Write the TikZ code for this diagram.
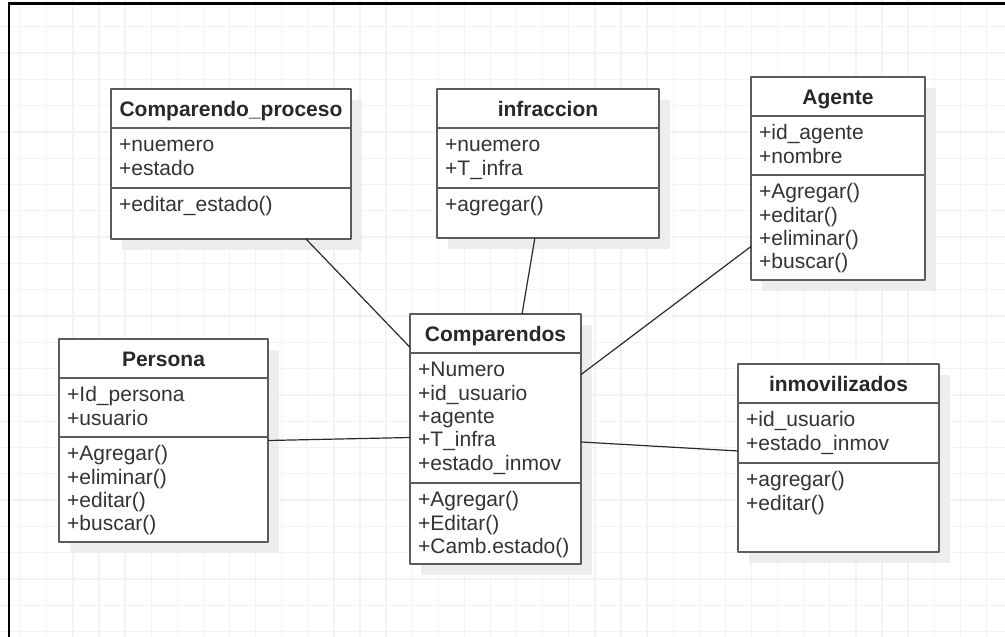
\documentclass[tikz,border=0pt]{standalone}
\usepackage{fontspec}
\setmainfont{Liberation Sans}
\usetikzlibrary{fit}

\definecolor{gridline}{HTML}{F3F3F3}
\definecolor{boxline}{HTML}{5C5C5C}
\definecolor{boxshadow}{HTML}{EDEDED}
\definecolor{ink}{HTML}{333333}
\definecolor{titleink}{HTML}{282828}
\definecolor{wire}{HTML}{2A2A2A}

\tikzset{
  gridl/.style={draw=gridline, line width=1.3pt},
  frameline/.style={draw=black, line width=2.6pt},
  classbox/.style={draw=boxline, line width=2.2pt, fill=white, rectangle,
    inner sep=0pt, outer sep=0pt, line join=round},
  divider/.style={draw=boxline, line width=2.2pt},
  classtitle/.style={font=\fontsize{21}{23.3}\selectfont\bfseries,
    text=titleink, inner sep=0pt, anchor=base},
  member/.style={font=\fontsize{21}{23.3}\selectfont, text=ink,
    inner sep=0pt, anchor=base west},
  assoc/.style={draw=wire, line width=1.2pt},
}

% class box: name, left, top, right, bottom, first divider, second divider, title
\newcommand\umlclass[8]{%
  \fill[boxshadow] ({#2+11},{#3+11}) rectangle ({#4+11},{#5+11});
  \node[classbox, fit={(#2,#3) (#4,#5)}] (#1) {};
  \draw[divider] (#2,#6) -- (#4,#6);
  \draw[divider] (#2,#7) -- (#4,#7);
  \node[classtitle] (#1-title) at ({(#2+#4)/2},{#6-12}) {#8};
}
% list of members: prefix, x, first baseline, entries
\newcommand\members[4]{%
  \foreach \t [count=\i from 0] in {#4} {
    \node[member] (#1-\i) at (#2,{#3+23.3*\i}) {\t};
  }
}

\begin{document}
\begin{tikzpicture}[x=1pt,y=-1pt]
  \useasboundingbox (0,0) rectangle (1005,637);
  \fill[white] (0,0) rectangle (1005,637);

  % background grid
  \foreach \k in {0,...,37} \draw[gridl] ({20.7+26.1*\k},0) -- ({20.7+26.1*\k},637);
  \foreach \k in {1,...,24} \draw[gridl] (0,{0.4+26.3*\k}) -- (1005,{0.4+26.3*\k});

  % page frame
  \draw[frameline] (9,637) -- (9,3.5) -- (1005,3.5);

  % classes
  \umlclass{cp}{111}{89}{351}{239}{128}{188}{Comparendo\_proceso}
  \members{cp-a}{119}{151.8}{+nuemero,+estado}
  \members{cp-m}{119}{211.8}{+editar\_estado()}

  \umlclass{inf}{437}{89}{659}{238}{128}{188}{infraccion}
  \members{inf-a}{445}{151.8}{+nuemero,+T\_infra}
  \members{inf-m}{445}{211.8}{+agregar()}

  \umlclass{ag}{751}{77}{925}{280}{116}{175}{Agente}
  \members{ag-a}{759}{139.8}{+id\_agente,+nombre}
  \members{ag-m}{759}{198.8}{+Agregar(),+editar(),+eliminar(),+buscar()}

  \umlclass{per}{59}{339}{268}{542}{378}{437}{Persona}
  \members{per-a}{67}{401.8}{+Id\_persona,+usuario}
  \members{per-m}{67}{460.8}{+Agregar(),+eliminar(),+editar(),+buscar()}

  \umlclass{cmp}{410}{314}{581}{564}{353}{483}{Comparendos}
  \members{cmp-a}{418}{376.8}{+Numero,+id\_usuario,+agente,+T\_infra,+estado\_inmov}
  \members{cmp-m}{418}{506.8}{+Agregar(),+Editar(),+Camb.estado()}

  \umlclass{inm}{738}{364}{939}{552}{403}{463}{inmovilizados}
  \members{inm-a}{746}{426.8}{+id\_usuario,+estado\_inmov}
  \members{inm-m}{746}{486.8}{+agregar(),+editar()}

  % associations
  \draw[assoc] (cp.-45.8) -- (cmp.133.9);
  \draw[assoc] (inf.-100.6) -- (cmp.78.9);
  \draw[assoc] (ag.-142.2) -- (cmp.37.7);
  \draw[assoc] (per.-0.3) -- (cmp.179.3);
  \draw[assoc] (cmp.-2.7) -- (inm.176.6);
\end{tikzpicture}
\end{document}
